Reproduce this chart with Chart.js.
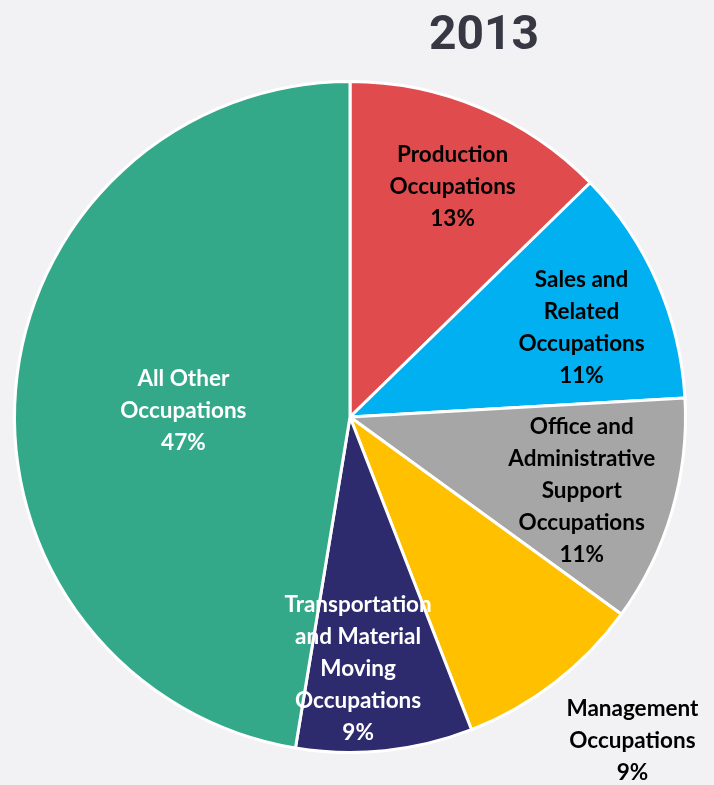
<!DOCTYPE html>
<html lang="en">
<head>
    <meta charset="UTF-8">
    <title>2013</title>
    <script src="https://cdn.jsdelivr.net/npm/chart.js@4.4.0/dist/chart.umd.min.js"></script>
    <style>
        html, body { margin: 0; padding: 0; background: #f2f2f4; }
        .chart-box { position: relative; width: 714px; height: 785px; }
    </style>
</head>
<body>
    <div class="chart-box">
        <canvas id="pieChart"></canvas>
    </div>

    <script>
        // data (share of jobs, %)
        const chartTitle = '2013';
        const categories = [
            ['Production', 'Occupations'],
            ['Sales and', 'Related', 'Occupations'],
            ['Office and', 'Administrative', 'Support', 'Occupations'],
            ['Management', 'Occupations'],
            ['Transportation', 'and Material', 'Moving', 'Occupations'],
            ['All Other', 'Occupations']
        ];
        const shares = [12.7, 11.4, 10.9, 9.1, 8.5, 47.4];

        const sliceColors = ['#e04c4e', '#00b0f0', '#a6a6a6', '#ffc000', '#2e2a6e', '#33a98a'];
        const labelColors = ['#000', '#000', '#000', '#000', '#fff', '#fff'];
        // where each label sits: fraction of radius, angle nudge in degrees
        const labelSpots = [[0.75, 1.2], [0.74, 2.6], [0.725, 1.3], [1.28, -3.5], [0.75, 4.1], [0.497, -2.6]];

        const sliceLabels = {
            id: 'sliceLabels',
            afterDatasetsDraw(chart) {
                const ctx = chart.ctx;
                const meta = chart.getDatasetMeta(0);
                const total = shares.reduce((a, b) => a + b, 0);
                ctx.save();
                ctx.font = 'bold 22.5px Lato, "Open Sans", sans-serif';
                ctx.textAlign = 'center';
                ctx.textBaseline = 'middle';
                meta.data.forEach((arc, i) => {
                    const p = arc.getProps(['x', 'y', 'startAngle', 'endAngle', 'outerRadius'], true);
                    const mid = (p.startAngle + p.endAngle) / 2 + labelSpots[i][1] * Math.PI / 180;
                    const r = p.outerRadius * labelSpots[i][0];
                    const cx = p.x + Math.cos(mid) * r;
                    const cy = p.y + Math.sin(mid) * r;
                    const lines = categories[i].concat([Math.round(shares[i] / total * 100) + '%']);
                    const lh = 32;
                    const top = cy - (lines.length - 1) * lh / 2;
                    ctx.fillStyle = labelColors[i];
                    lines.forEach((t, k) => ctx.fillText(t, cx, top + k * lh));
                });
                ctx.restore();
            }
        };

        const titleText = {
            id: 'titleText',
            afterDraw(chart) {
                const ctx = chart.ctx;
                ctx.save();
                ctx.font = 'bold 48px Roboto, sans-serif';
                ctx.fillStyle = '#383845';
                ctx.textAlign = 'center';
                ctx.textBaseline = 'alphabetic';
                ctx.fillText(chartTitle, 484, 49);
                ctx.restore();
            }
        };

        new Chart(document.getElementById('pieChart'), {
            type: 'pie',
            data: {
                labels: categories.map(c => c.join(' ')),
                datasets: [{
                    data: shares,
                    backgroundColor: sliceColors,
                    borderColor: '#ffffff',
                    borderWidth: 3
                }]
            },
            options: {
                responsive: true,
                maintainAspectRatio: false,
                animation: false,
                layout: { padding: { top: 80, bottom: 31, left: 13, right: 27 } },
                plugins: {
                    legend: { display: false },
                    title: { display: false },
                    tooltip: { enabled: true }
                }
            },
            plugins: [sliceLabels, titleText]
        });
    </script>
</body>
</html>
